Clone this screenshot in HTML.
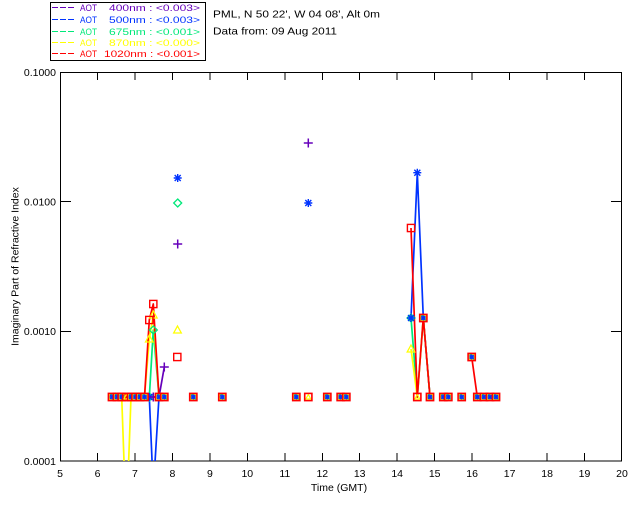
<!DOCTYPE html>
<html>
<head>
<meta charset="utf-8">
<style>
html,body{margin:0;padding:0;background:#fff;}
svg{display:block;font-family:"Liberation Sans",sans-serif;}
</style>
</head>
<body>
<svg width="640" height="512" viewBox="0 0 640 512" xmlns="http://www.w3.org/2000/svg">
<defs>
  <clipPath id="pc"><rect x="60" y="72" width="562" height="389"/></clipPath>
  <g id="cm">
    <rect x="-3" y="-3" width="6" height="6" fill="#ffff00"/>
    <path d="M-2,-2.5L0,-2.5M1,1L2.5,2.5" stroke="#00e87a" stroke-width="1"/>
    <path d="M-2.5,0H2.5M0,-2.5V2.5M-2,-2L2,2M-2,2L2,-2" stroke="#0033ff" stroke-width="1.3"/>
    <rect x="-3.6" y="-3.6" width="7.2" height="7.2" fill="none" stroke="#ff0000" stroke-width="1.6"/>
  </g>
  <g id="sm">
    <path d="M0,-2.5L2.5,2L-2.5,2Z" fill="none" stroke="#ffff00" stroke-width="1.2"/>
    <rect x="-3.6" y="-3.6" width="7.2" height="7.2" fill="none" stroke="#ff0000" stroke-width="1.6"/>
  </g>
  <rect id="sq" x="-3.6" y="-3.6" width="7.2" height="7.2" fill="none" stroke="#ff0000" stroke-width="1.4"/>
  <path id="tri" d="M0,-4L3.8,3L-3.8,3Z" fill="none" stroke="#ffff00" stroke-width="1.3"/>
  <path id="dia" d="M0,-4L4,0L0,4L-4,0Z" fill="none" stroke="#00e87a" stroke-width="1.3"/>
  <path id="ast" d="M-4,0H4M0,-4V4M-3,-3L3,3M-3,3L3,-3" stroke="#0033ff" stroke-width="1.4"/>
  <path id="pl" d="M-4.5,0H4.5M0,-4.5V4.5" stroke="#6600bb" stroke-width="1.5"/>
</defs>

<!-- Legend -->
<rect x="50.5" y="2.5" width="155" height="58" fill="none" stroke="#000" stroke-width="1"/>
<rect x="52" y="7" width="6" height="1" fill="#6600bb"/><rect x="60" y="7" width="6" height="1" fill="#6600bb"/><rect x="68" y="7" width="6" height="1" fill="#6600bb"/>
<rect x="52" y="19" width="6" height="1" fill="#0033ff"/><rect x="60" y="19" width="6" height="1" fill="#0033ff"/><rect x="68" y="19" width="6" height="1" fill="#0033ff"/>
<rect x="52" y="31" width="6" height="1" fill="#00e87a"/><rect x="60" y="31" width="6" height="1" fill="#00e87a"/><rect x="68" y="31" width="6" height="1" fill="#00e87a"/>
<rect x="52" y="42" width="6" height="1" fill="#ffff00"/><rect x="60" y="42" width="6" height="1" fill="#ffff00"/><rect x="68" y="42" width="6" height="1" fill="#ffff00"/>
<rect x="52" y="53" width="6" height="1" fill="#ff0000"/><rect x="60" y="53" width="6" height="1" fill="#ff0000"/><rect x="68" y="53" width="6" height="1" fill="#ff0000"/>
<g font-size="9.5">
  <text x="80" y="11" fill="#6600bb" textLength="17" lengthAdjust="spacingAndGlyphs">AOT</text>
  <text x="109" y="11" fill="#6600bb" textLength="91" lengthAdjust="spacingAndGlyphs">400nm : &lt;0.003&gt;</text>
  <text x="80" y="23" fill="#0033ff" textLength="17" lengthAdjust="spacingAndGlyphs">AOT</text>
  <text x="109" y="23" fill="#0033ff" textLength="91" lengthAdjust="spacingAndGlyphs">500nm : &lt;0.003&gt;</text>
  <text x="80" y="35" fill="#00e87a" textLength="17" lengthAdjust="spacingAndGlyphs">AOT</text>
  <text x="109" y="35" fill="#00e87a" textLength="91" lengthAdjust="spacingAndGlyphs">675nm : &lt;0.001&gt;</text>
  <text x="80" y="46" fill="#ffff00" textLength="17" lengthAdjust="spacingAndGlyphs">AOT</text>
  <text x="109" y="46" fill="#ffff00" textLength="91" lengthAdjust="spacingAndGlyphs">870nm : &lt;0.000&gt;</text>
  <text x="80" y="57" fill="#ff0000" textLength="17" lengthAdjust="spacingAndGlyphs">AOT</text>
  <text x="104" y="57" fill="#ff0000" textLength="96" lengthAdjust="spacingAndGlyphs">1020nm : &lt;0.001&gt;</text>
</g>
<g font-size="10.5" fill="#000">
  <text x="213" y="17.5" textLength="167" lengthAdjust="spacingAndGlyphs">PML, N 50 22', W 04 08', Alt 0m</text>
  <text x="213" y="34.5" textLength="124" lengthAdjust="spacingAndGlyphs">Data from: 09 Aug 2011</text>
</g>

<!-- Axes -->
<g stroke="#000" stroke-width="1" shape-rendering="crispEdges" fill="none">
  <rect x="60.5" y="72.5" width="561" height="388.5"/>
  <path d="M97.5,461V453M134.9,461V453M172.4,461V453M209.9,461V453M247.3,461V453M284.8,461V453M322.3,461V453M359.7,461V453M397.2,461V453M434.7,461V453M472.1,461V453M509.6,461V453M547.1,461V453M584.5,461V453"/>
  <path d="M97.5,72V80M134.9,72V80M172.4,72V80M209.9,72V80M247.3,72V80M284.8,72V80M322.3,72V80M359.7,72V80M397.2,72V80M434.7,72V80M472.1,72V80M509.6,72V80M547.1,72V80M584.5,72V80"/>
  <path d="M60,201.5H71M60,331.5H71M622,201.5H611M622,331.5H611"/>
</g>
<g font-size="10.5" fill="#000" text-anchor="end">
  <text x="56" y="76">0.1000</text>
  <text x="56" y="205.5">0.0100</text>
  <text x="56" y="335">0.0010</text>
  <text x="56" y="465">0.0001</text>
</g>
<g font-size="10.5" fill="#000" text-anchor="middle">
  <text x="60" y="477">5</text>
  <text x="97.5" y="477">6</text>
  <text x="134.9" y="477">7</text>
  <text x="172.4" y="477">8</text>
  <text x="209.9" y="477">9</text>
  <text x="247.3" y="477">10</text>
  <text x="284.8" y="477">11</text>
  <text x="322.3" y="477">12</text>
  <text x="359.7" y="477">13</text>
  <text x="397.2" y="477">14</text>
  <text x="434.7" y="477">15</text>
  <text x="472.1" y="477">16</text>
  <text x="509.6" y="477">17</text>
  <text x="547.1" y="477">18</text>
  <text x="584.5" y="477">19</text>
  <text x="622" y="477">20</text>
  <text x="339" y="491">Time (GMT)</text>
  <text transform="translate(18.5,266.5) rotate(-90)">Imaginary Part of Refractive Index</text>
</g>

<!-- Series lines -->
<g clip-path="url(#pc)" fill="none" stroke-width="1.7" stroke-linejoin="round">
  <polyline stroke="#6600bb" points="112,397 144.5,397 149.3,397 153.3,397 159,397 164.3,367"/>
  <polyline stroke="#6600bb" points="423.3,318 430,397"/>
  <polyline stroke="#0033ff" points="112,397 144.5,397 149.3,397 153.3,490 159,397 164.3,397"/>
  <polyline stroke="#0033ff" points="411,318 417.3,172.7 423.3,318 430,397"/>
  <polyline stroke="#00e87a" points="112,397 144.5,397 149.3,397 153.3,330 159,397 164.3,397"/>
  <polyline stroke="#00e87a" points="411,318 417.3,397 423.3,318 430,397"/>
  <polyline stroke="#ffff00" points="112,397 121.7,397 126.3,525 131,397 144.5,397 149.3,339 153.3,315 159,397 164.3,397"/>
  <polyline stroke="#ffff00" points="411,349 417.3,397 423.3,318 430,397"/>
  <polyline stroke="#ff0000" points="112,397 144.5,397 149.3,320 153.3,304 159,397 164.3,397"/>
  <polyline stroke="#ff0000" points="411,228 417.3,397 423.3,318 430,397"/>
  <polyline stroke="#ff0000" points="471.7,357 477.3,397 496,397"/>
</g>

<!-- Individual markers -->
<use href="#dia" x="149.3" y="397"/>
<use href="#ast" x="149.3" y="397"/>
<use href="#pl" x="153.3" y="397"/>
<use href="#pl" x="164.3" y="367"/>
<use href="#pl" x="177.7" y="244"/>
<use href="#pl" x="308.3" y="143"/>
<use href="#ast" x="177.7" y="178"/>
<use href="#ast" x="308.3" y="203"/>
<use href="#ast" x="417.3" y="172.7"/>
<use href="#dia" x="153.3" y="330"/>
<use href="#dia" x="177.7" y="203"/>
<use href="#dia" x="411" y="318"/>
<use href="#ast" x="411" y="318"/>
<use href="#tri" x="149.3" y="339"/>
<use href="#tri" x="153.3" y="315"/>
<use href="#tri" x="177.5" y="330"/>
<use href="#tri" x="411" y="349"/>
<use href="#sq" x="149.3" y="320"/>
<use href="#sq" x="153.3" y="304"/>
<use href="#sq" x="177.3" y="357"/>
<use href="#sq" x="411" y="228"/>

<!-- Composite baseline markers -->
<use href="#cm" x="112" y="397"/>
<use href="#cm" x="117" y="397"/>
<use href="#cm" x="121.7" y="397"/>
<use href="#sm" x="126.3" y="397"/>
<use href="#cm" x="131" y="397"/>
<use href="#cm" x="135.5" y="397"/>
<use href="#cm" x="140" y="397"/>
<use href="#cm" x="144.5" y="397"/>
<use href="#cm" x="159" y="397"/>
<use href="#cm" x="164.3" y="397"/>
<use href="#cm" x="193.3" y="397"/>
<use href="#cm" x="222.3" y="397"/>
<use href="#cm" x="296.3" y="397"/>
<use href="#sm" x="308.3" y="397"/>
<use href="#cm" x="327.3" y="397"/>
<use href="#cm" x="340.7" y="397"/>
<use href="#cm" x="346.3" y="397"/>
<use href="#sm" x="417.3" y="397"/>
<use href="#cm" x="423.3" y="318"/>
<use href="#cm" x="430" y="397"/>
<use href="#cm" x="443.3" y="397"/>
<use href="#cm" x="448.3" y="397"/>
<use href="#cm" x="461.7" y="397"/>
<use href="#cm" x="471.7" y="357"/>
<use href="#cm" x="477.3" y="397"/>
<use href="#cm" x="484" y="397"/>
<use href="#cm" x="490" y="397"/>
<use href="#cm" x="496" y="397"/>
</svg>
</body>
</html>
